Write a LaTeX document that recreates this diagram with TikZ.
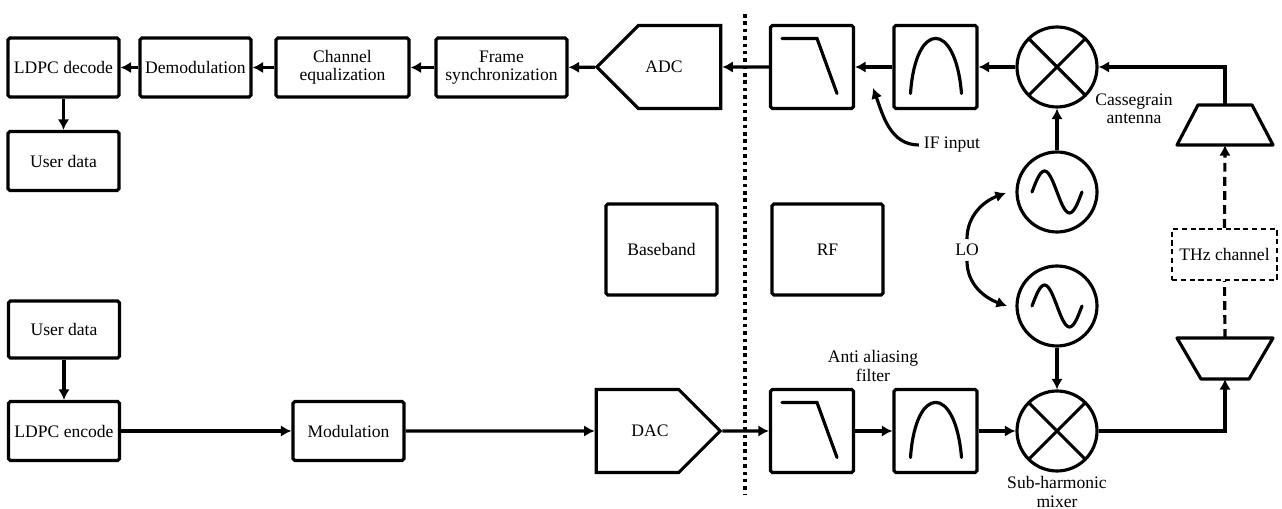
\documentclass[tikz,border=0pt]{standalone}
\usepackage{fontspec}
\setmainfont{Liberation Serif}
\usetikzlibrary{positioning,arrows.meta,shapes.geometric,shapes.symbols,calc}

\begin{document}
\begin{tikzpicture}[x=0.02cm,y=0.02cm,
  font=\rmfamily\fontsize{10}{10.5}\selectfont,
  line width=1.8pt,
  >={Latex[length=6pt,width=6.5pt]},
  block/.style={draw,rounded corners=1pt,align=center,inner sep=1pt,minimum width=2.22cm,minimum height=1.18cm},
  filt/.style={draw,rounded corners=1pt,minimum width=1.66cm,minimum height=1.66cm},
  lowpass/.style={filt,path picture={\draw[line cap=round,sharp corners] ([xshift=-0.6cm,yshift=0.57cm]path picture bounding box.center) -- ++(0.7cm,0) -- ++(0.4cm,-1.1cm);}},
  bandpass/.style={filt,path picture={\draw[line cap=round] ([xshift=-0.5cm,yshift=-0.53cm]path picture bounding box.center) .. controls +(0.1cm,1.47cm) and +(-0.12cm,1.47cm) .. ([xshift=0.52cm,yshift=-0.53cm]path picture bounding box.center);}},
  mixer/.style={draw,circle,minimum size=1.6cm,inner sep=0pt,path picture={\draw (path picture bounding box.north west) -- (path picture bounding box.south east) (path picture bounding box.north east) -- (path picture bounding box.south west);}},
  osc/.style={draw,circle,minimum size=1.6cm,inner sep=0pt,path picture={\draw[line cap=round] ([xshift=-0.5cm]path picture bounding box.center) sin ++(0.25cm,0.42cm) cos ++(0.25cm,-0.42cm) sin ++(0.25cm,-0.42cm) cos ++(0.25cm,0.42cm);}},
  conv/.style={draw,signal,signal pointer angle=90,minimum width=2.48cm,minimum height=1.66cm,inner sep=1pt},
  chan/.style={draw,dash pattern=on 3pt off 2pt,line width=1.2pt,minimum width=2.1cm,minimum height=1.02cm,inner sep=1pt},
  link/.style={dash pattern=on 5pt off 3pt},
  lbl/.style={align=center,inner sep=2pt}]

\useasboundingbox (0,0) rectangle (1282,-509);

% receiver
\node[block] (ldpcdec) at (63.5,-67.5) {LDPC decode};
\node[block] (demod) at (195.5,-67.5) {Demodulation};
\node[block,minimum width=2.66cm] (chaneq) at (342.5,-67.5) {Channel\\equalization};
\node[block,minimum width=2.62cm] (framesync) at (501.5,-67.5) {Frame\\synchronization};
\node[block] (userdatat) at (63.5,-161) {User data};
\node[conv,signal to=west] (adc) at (679.5,-67) {\hspace*{-0.62cm}ADC};
\node[lowpass] (lpt) at (812,-67) {};
\node[bandpass] (bpt) at (935.5,-67) {};
\node[mixer] (mixt) at (1057,-67) {};
\node[osc] (osct) at (1057,-192) {};

% receive antenna
\draw[line join=round] (1198,-105) -- (1252,-105) -- (1273,-145) -- (1177,-145) -- cycle;
\coordinate (antttop) at (1225,-105);
\coordinate (anttbot) at (1225,-145);

% channel
\node[chan] (thz) at (1224.5,-254.5) {THz channel};

% transmitter
\node[block,minimum height=1.14cm] (userdatab) at (64,-329.5) {User data};
\node[block] (ldpcenc) at (64,-431) {LDPC encode};
\node[block] (mod) at (348.5,-431) {Modulation};
\node[conv,signal to=east] (dac) at (637.5,-431) {DAC\hspace*{-0.5cm}};
\node[lowpass] (lpb) at (812,-431) {};
\node[bandpass] (bpb) at (935.5,-431) {};
\node[mixer] (mixb) at (1057,-431) {};
\node[osc] (oscb) at (1057,-306) {};

% transmit antenna
\draw[line join=round] (1177,-338) -- (1273,-338) -- (1249,-379) -- (1201,-379) -- cycle;
\coordinate (antbtop) at (1225,-338);
\coordinate (antbbot) at (1225,-379);

% legend boxes
\node[block,minimum height=1.82cm] (baseband) at (661.5,-249.5) {Baseband};
\node[block,minimum height=1.82cm] (rf) at (827.5,-249.5) {RF};

% labels
\node[lbl] (cass) at (1134,-109) {Cassegrain\\antenna};
\node[lbl] (ifin) at (952,-145) {IF input};
\node[lbl] (lo) at (967,-250) {LO};
\node[lbl] (aaf) at (873,-366) {Anti aliasing\\filter};
\node[lbl] (shm) at (1057,-492) {Sub-harmonic\\mixer};

\coordinate (divtop) at (745,-14);
\coordinate (divbot) at (745,-495);
\coordinate (iftip) at (873,-88);
\coordinate (lotop) at (1006,-193);
\coordinate (lobot) at (1007,-306);

\draw[line width=2pt,dash pattern=on 2pt off 2.2pt] (divtop) -- (divbot);

% receive chain
\draw[->] (antttop) |- (mixt.east);
\draw[->] (mixt) -- (bpt);
\draw[->] (bpt) -- (lpt);
\draw[->] (lpt) -- (adc);
\draw[->] (adc) -- (framesync);
\draw[->] (framesync) -- (chaneq);
\draw[->] (chaneq) -- (demod);
\draw[->] (demod) -- (ldpcdec);
\draw[->] (ldpcdec) -- (userdatat);
\draw[->] (osct) -- (mixt);

% transmit chain
\draw[->] (userdatab) -- (ldpcenc);
\draw[->] (ldpcenc) -- (mod);
\draw[->] (mod) -- (dac);
\draw[->] (dac) -- (lpb);
\draw[->] (lpb) -- (bpb);
\draw[->] (bpb) -- (mixb);
\draw[->] (oscb) -- (mixb);
\draw[->] (mixb.east) -| (antbbot);

% air link
\draw[link] (antbtop) -- (thz.south);
\draw[->,link] (thz.north) -- (anttbot);

% label pointers
\draw[->] (ifin.west) to[out=180,in=-70] (iftip);
\draw[->] (lo.north) to[out=90,in=200] (lotop);
\draw[->] (lo.south) to[out=-90,in=160] (lobot);

\end{tikzpicture}
\end{document}
